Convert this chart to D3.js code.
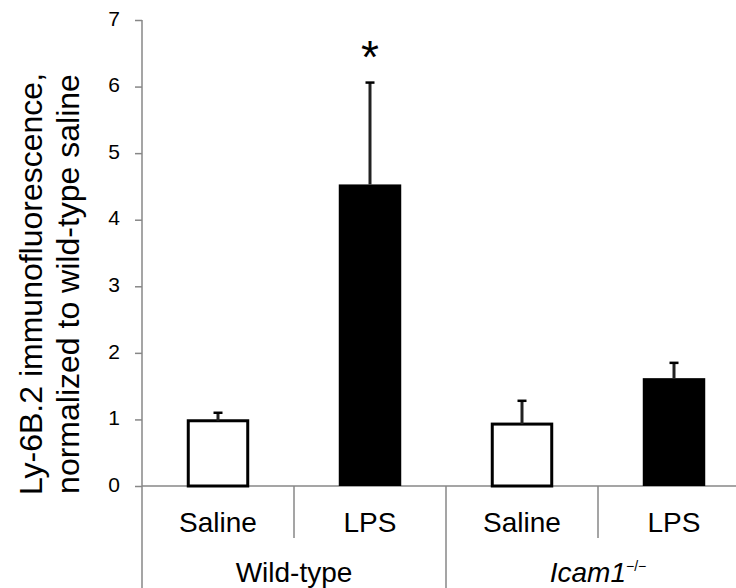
<!DOCTYPE html>
<html>
<head>
<meta charset="utf-8">
<script src="https://cdn.jsdelivr.net/npm/d3@7"></script>
<style>
  html, body { margin: 0; padding: 0; background: #fff; }
  svg { display: block; }
  text { font-family: "Liberation Sans", Arial, sans-serif; fill: #000; }
</style>
</head>
<body>
<svg id="chart" width="736" height="588"></svg>
<script>
// ---- data ----
const categories = ["Saline", "LPS", "Saline", "LPS"];
const groups = ["Wild-type", "Icam1"];
const groupOf = [0, 0, 1, 1];
const means = [0.98, 4.53, 0.93, 1.62];
const errors = [0.12, 1.53, 0.35, 0.23];
const fills = ["white", "black", "white", "black"];
const yTicks = [0, 1, 2, 3, 4, 5, 6, 7];
const significance = ["", "*", "", ""];
const yLabelLines = ["Ly-6B.2 immunofluorescence,", "normalized to wild-type saline"];

// ---- layout ----
const svg = d3.select("#chart");
const axisColor = "#878787";
const x0 = 142, x1 = 750, yTop = 20, yBase = 486;

const x = d3.scaleBand().domain(d3.range(categories.length)).range([x0, x1])
  .paddingInner(0.589).paddingOuter(0.2945);
const y = d3.scaleLinear().domain([0, 7]).range([yBase, yTop]);

// y axis ticks
const yAxis = d3.axisLeft(y).tickValues(yTicks).tickSize(7).tickPadding(15).tickFormat(d3.format("d"));
const gy = svg.append("g").attr("transform", `translate(${x0},0)`).call(yAxis);
gy.select(".domain").remove();
gy.selectAll(".tick line").attr("stroke", axisColor).attr("stroke-width", 1.5);
gy.selectAll(".tick text").style("font-size", "21px").attr("fill", "#000")
  .attr("dy", "0.25em")
  .style("font-family", "'Liberation Sans', Arial, sans-serif");

// vertical axis line extended down through category table
svg.append("line").attr("x1", x0).attr("x2", x0).attr("y1", yTop).attr("y2", 588)
  .attr("stroke", axisColor).attr("stroke-width", 1.5);
// baseline
svg.append("line").attr("x1", x0).attr("x2", 736).attr("y1", yBase).attr("y2", yBase)
  .attr("stroke", axisColor).attr("stroke-width", 1.5);

// separators in category table
const step = x.step();
for (let k = 1; k < categories.length; k++) {
  const xs = x0 + step * k;
  const isGroupBoundary = groupOf[k] !== groupOf[k - 1];
  svg.append("line").attr("x1", xs).attr("x2", xs).attr("y1", yBase)
    .attr("y2", isGroupBoundary ? 588 : 538)
    .attr("stroke", axisColor).attr("stroke-width", 1.5);
}

// bars
svg.selectAll("rect.bar").data(means).enter().append("rect")
  .attr("class", "bar")
  .attr("x", (d, i) => x(i) + (fills[i] === "white" ? 1.5 : 0))
  .attr("width", (d, i) => x.bandwidth() - (fills[i] === "white" ? 3 : 0))
  .attr("y", d => y(d))
  .attr("height", d => yBase - y(d))
  .attr("fill", (d, i) => fills[i])
  .attr("stroke", "black")
  .attr("stroke-width", (d, i) => fills[i] === "white" ? 3 : 0);

// error bars
means.forEach((m, i) => {
  const cx = x(i) + x.bandwidth() / 2;
  svg.append("line").attr("x1", cx).attr("x2", cx)
    .attr("y1", y(m)).attr("y2", y(m + errors[i]))
    .attr("stroke", "#222").attr("stroke-width", 3);
  svg.append("line").attr("x1", cx - 4.5).attr("x2", cx + 4.5)
    .attr("y1", y(m + errors[i])).attr("y2", y(m + errors[i]))
    .attr("stroke", "#000").attr("stroke-width", 2.5);
  if (significance[i]) {
    svg.append("text").attr("x", cx).attr("y", y(m + errors[i]) - 10)
      .attr("text-anchor", "middle").style("font-size", "46px")
      .text(significance[i]);
  }
});

// category labels
svg.selectAll("text.cat").data(categories).enter().append("text")
  .attr("class", "cat")
  .attr("x", (d, i) => x(i) + x.bandwidth() / 2)
  .attr("y", 532)
  .attr("text-anchor", "middle")
  .style("font-size", "28px")
  .text(d => d);

// group labels
groups.forEach((g, gi) => {
  const idx = d3.range(categories.length).filter(i => groupOf[i] === gi);
  const gx = x0 + step * (idx[0] + idx[idx.length - 1] + 1) / 2;
  const t = svg.append("text").attr("x", gx).attr("y", 582)
    .attr("text-anchor", "middle").style("font-size", "28px");
  if (gi === 0) {
    t.text(g);
  } else {
    t.append("tspan").style("font-style", "italic").text(g);
    t.append("tspan").attr("dy", -11).style("font-size", "14px").text("\u2212/\u2212");
  }
});

// y-axis title
yLabelLines.forEach((line, li) => {
  svg.append("text")
    .attr("transform", `translate(${li === 0 ? 42 : 79},284) rotate(-90)`)
    .attr("text-anchor", "middle")
    .style("font-size", "32px")
    .text(line);
});
</script>
</body>
</html>
